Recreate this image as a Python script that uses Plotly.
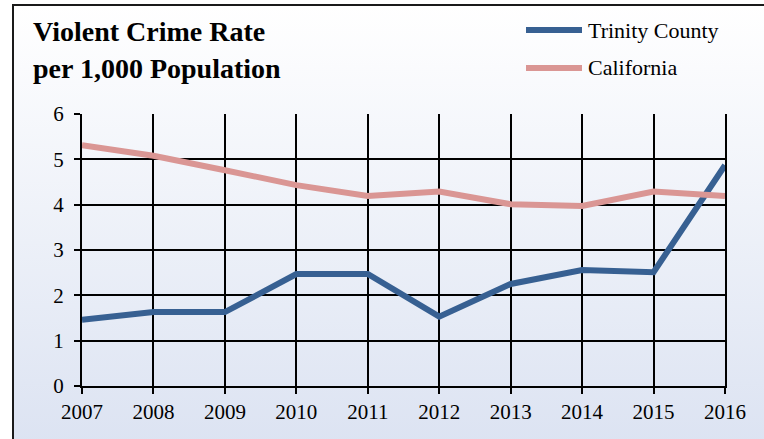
import plotly.graph_objects as go
import urllib.parse

years = [2007, 2008, 2009, 2010, 2011, 2012, 2013, 2014, 2015, 2016]
trinity = [1.46, 1.63, 1.63, 2.47, 2.47, 1.53, 2.25, 2.56, 2.51, 4.87]
california = [5.31, 5.08, 4.76, 4.43, 4.19, 4.29, 4.01, 3.97, 4.29, 4.19]
series_names = ["Trinity County", "California"]
title_lines = ["Violent Crime Rate", "per 1,000 Population"]

BLUE = "#376092"
PINK = "#DA9694"
FONT = "Times New Roman, Liberation Serif, DejaVu Serif, serif"

W, H = 764, 439
L, R, T, B = 82, 725, 114, 386  # plot area in pixels


def px_x(px):
    return (px - L) / (R - L)


def px_y(py):
    return (B - py) / (B - T)


fig = go.Figure()
fig.add_trace(go.Scatter(x=years, y=trinity, mode="lines", name=series_names[0],
                         line=dict(color=BLUE, width=6), showlegend=False))
fig.add_trace(go.Scatter(x=years, y=california, mode="lines", name=series_names[1],
                         line=dict(color=PINK, width=6), showlegend=False))

# gradient background as an inline SVG image
svg = ("<svg xmlns='http://www.w3.org/2000/svg' width='764' height='439'>"
       "<defs><linearGradient id='g' x1='0' y1='0' x2='0' y2='1'>"
       "<stop offset='0' stop-color='#FFFFFF'/><stop offset='1' stop-color='#DCE3F2'/>"
       "</linearGradient></defs>"
       "<rect x='0' y='0' width='764' height='439' fill='white'/>"
       "<rect x='13' y='5' width='760' height='440' fill='url(#g)'/>"
       "</svg>")
src = "data:image/svg+xml;charset=utf-8," + urllib.parse.quote(svg)

images = [dict(source=src, xref="paper", yref="paper", x=px_x(0), y=px_y(0),
               sizex=W / (R - L), sizey=H / (B - T), xanchor="left", yanchor="top",
               sizing="stretch", layer="below")]

shapes = []
shapes.append(dict(type="line", xref="paper", yref="paper", x0=px_x(13), x1=px_x(13),
                   y0=px_y(4), y1=px_y(445), line=dict(color="#1a1a1a", width=2)))
shapes.append(dict(type="line", xref="paper", yref="paper", x0=px_x(12), x1=px_x(770),
                   y0=px_y(5), y1=px_y(5), line=dict(color="#1a1a1a", width=2)))
for i, col in enumerate([BLUE, PINK]):
    yy = 30 + 38 * i
    shapes.append(dict(type="line", xref="paper", yref="paper", x0=px_x(526), x1=px_x(582),
                       y0=px_y(yy), y1=px_y(yy), line=dict(color=col, width=6)))

annotations = []
for i, name in enumerate(series_names):
    yy = 30 + 38 * i
    annotations.append(dict(text=name, xref="paper", yref="paper", x=px_x(586), y=px_y(yy),
                            xanchor="left", yanchor="middle", showarrow=False,
                            font=dict(family=FONT, size=22, color="black")))
for i, line in enumerate(title_lines):
    yy = 32 + 37 * i
    annotations.append(dict(text="<b>%s</b>" % line, xref="paper", yref="paper", x=px_x(31), y=px_y(yy),
                            xanchor="left", yanchor="middle", showarrow=False,
                            font=dict(family=FONT, size=28, color="black")))

fig.update_layout(
    width=W, height=H,
    margin=dict(l=L, r=W - R, t=T, b=H - B),
    paper_bgcolor="white", plot_bgcolor="rgba(0,0,0,0)",
    shapes=shapes, annotations=annotations, images=images,
    font=dict(family=FONT, size=21, color="black"),
    xaxis=dict(range=[2007, 2016], tickvals=years, ticktext=[str(y) for y in years],
               showgrid=True, gridcolor="black", gridwidth=2, zeroline=False,
               showline=True, linecolor="black", linewidth=2,
               ticks="outside", ticklen=6, tickcolor="black", tickwidth=2,
               tickfont=dict(family=FONT, size=21), fixedrange=True),
    yaxis=dict(range=[0, 6], tickvals=[0, 1, 2, 3, 4, 5, 6],
               showgrid=True, gridcolor="black", gridwidth=2, zeroline=False,
               showline=True, linecolor="black", linewidth=2, mirror=True,
               ticks="outside", ticklen=6, tickcolor="black", tickwidth=2,
               ticklabelstandoff=6,
               tickfont=dict(family=FONT, size=21), fixedrange=True),
)

fig.write_html("out.html", config={"displayModeBar": False},
               post_script="document.body.style.margin='0';")
